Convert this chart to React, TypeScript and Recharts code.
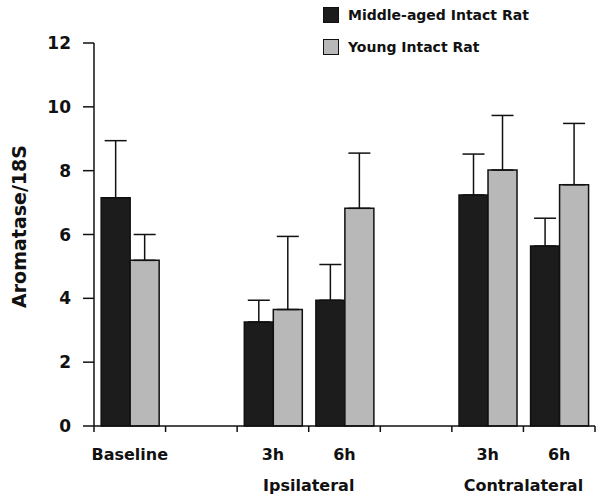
import React from 'react';
import { BarChart, Bar, XAxis, YAxis, ErrorBar, Legend, Label } from 'recharts';

const categories = ['Baseline', '', '3h', '6h', '', '3h', '6h'];
const groupLabels = ['Ipsilateral', 'Contralateral'];
const groupStarts = [2, 5];
const seriesNames = ['Middle-aged Intact Rat', 'Young Intact Rat'];
const middleAged = [7.15, null, 3.26, 3.94, null, 7.24, 5.64];
const middleAgedSem = [1.79, null, 0.68, 1.12, null, 1.28, 0.87];
const young = [5.19, null, 3.65, 6.82, null, 8.02, 7.56];
const youngSem = [0.81, null, 2.29, 1.73, null, 1.71, 1.92];
const yTicks = [0, 2, 4, 6, 8, 10, 12];

const data = categories.map((c, i) => ({
  key: `c${i}`,
  middle: middleAged[i],
  middleErr: middleAgedSem[i] == null ? null : [0, middleAgedSem[i]],
  young: young[i],
  youngErr: youngSem[i] == null ? null : [0, youngSem[i]],
}));

const W = 600;
const H = 499;
const margin = { top: 43, right: 5, left: 30, bottom: 15 };
const yAxisWidth = 64;
const catW = (W - margin.left - margin.right - yAxisWidth) / categories.length;
const font = '"DejaVu Sans", sans-serif';
const ink = '#111';

function XTick(props: any) {
  const { x, y, payload, index } = props;
  const i = payload?.index ?? index;
  const axisY = y - 8;
  const gi = groupStarts.indexOf(i);
  return (
    <g>
      <line x1={x - catW / 2} x2={x - catW / 2} y1={axisY} y2={axisY + 6} stroke={ink} strokeWidth={1.5} />
      {i === categories.length - 1 && (
        <line x1={x + catW / 2} x2={x + catW / 2} y1={axisY} y2={axisY + 6} stroke={ink} strokeWidth={1.5} />
      )}
      <text x={x} y={axisY + 34} textAnchor="middle" fontFamily={font} fontWeight="bold" fontSize={16} fill={ink}>
        {categories[i]}
      </text>
      {gi >= 0 && (
        <text x={x + catW / 2} y={axisY + 65} textAnchor="middle" fontFamily={font} fontWeight="bold" fontSize={16} fill={ink}>
          {groupLabels[gi]}
        </text>
      )}
    </g>
  );
}

function renderLegend(props: any) {
  const items = props.payload || [];
  return (
    <div style={{ fontFamily: font, fontWeight: 'bold', fontSize: 14, color: ink }}>
      {items.map((it: any) => (
        <div key={it.value} style={{ display: 'flex', alignItems: 'center', height: 16, marginBottom: 16 }}>
          <span style={{ display: 'inline-block', width: 14, height: 14, background: it.color, border: `1px solid ${ink}` }} />
          <span style={{ marginLeft: 9, whiteSpace: 'nowrap' }}>{it.value}</span>
        </div>
      ))}
    </div>
  );
}

export default function App() {
  return (
    <div style={{ position: 'absolute', left: 0, top: 0, width: W, height: H, background: '#fff' }}>
      <BarChart width={W} height={H} data={data} margin={margin} barGap={0} barCategoryGap="10%">
        <XAxis
          dataKey="key"
          interval={0}
          height={58}
          tickSize={6}
          tickMargin={2}
          tickLine={false}
          axisLine={{ stroke: ink, strokeWidth: 1.5 }}
          tick={<XTick />}
        />
        <YAxis
          width={yAxisWidth}
          domain={[0, 12]}
          ticks={yTicks}
          tickSize={11}
          tickMargin={12}
          axisLine={{ stroke: ink, strokeWidth: 1.5 }}
          tickLine={{ stroke: ink, strokeWidth: 1.5 }}
          tick={{ fontFamily: font, fontWeight: 'bold', fontSize: 17, fill: ink }}
        >
          <Label
            content={({ viewBox }: any) => {
              const x = viewBox.x - 4;
              const y = viewBox.y + viewBox.height / 2 - 8;
              return (
                <text x={x} y={y} transform={`rotate(-90, ${x}, ${y})`} textAnchor="middle" fontFamily={font} fontWeight="bold" fontSize={19} fill={ink}>
                  Aromatase/18S
                </text>
              );
            }}
          />
        </YAxis>
        <Legend
          layout="horizontal"
          verticalAlign="middle"
          align="center"
          wrapperStyle={{ top: 7, left: 323, width: 270, height: 64 }}
          content={renderLegend}
        />
        <Bar dataKey="middle" name={seriesNames[0]} fill="#1c1c1c" stroke={ink} strokeWidth={1.5} isAnimationActive={false}>
          <ErrorBar dataKey="middleErr" width={11} stroke={ink} strokeWidth={1.5} direction="y" isAnimationActive={false} />
        </Bar>
        <Bar dataKey="young" name={seriesNames[1]} fill="#b8b8b8" stroke={ink} strokeWidth={1.5} isAnimationActive={false}>
          <ErrorBar dataKey="youngErr" width={11} stroke={ink} strokeWidth={1.5} direction="y" isAnimationActive={false} />
        </Bar>
      </BarChart>
    </div>
  );
}
